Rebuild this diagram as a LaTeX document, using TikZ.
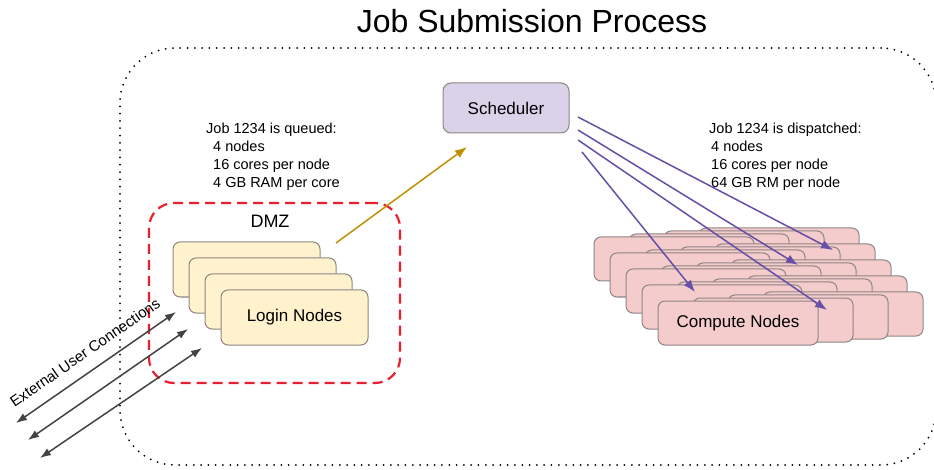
\documentclass[tikz,border=0pt]{standalone}
\usepackage{fontspec}
\setmainfont{Liberation Sans}
\usetikzlibrary{arrows.meta}
\definecolor{loginfill}{HTML}{FFF2CC}
\definecolor{computefill}{HTML}{F4CCCC}
\definecolor{schedfill}{HTML}{D9D2E9}
\definecolor{boxline}{HTML}{8E8585}
\definecolor{dispatch}{HTML}{674EA7}
\definecolor{submit}{HTML}{BF9000}
\definecolor{userline}{HTML}{434343}
\definecolor{dmzred}{HTML}{E6202C}

\begin{document}
\begin{tikzpicture}
  [x=1pt,y=-1pt,
   every node/.style={font=\fontsize{17}{20}\selectfont},
   stackbox/.style={draw=boxline,line width=1pt,rounded corners=7pt},
   loginbox/.style={stackbox,fill=loginfill,minimum width=147pt,minimum height=55pt},
   computebox/.style={stackbox,fill=computefill,minimum width=160pt,minimum height=44pt},
   note/.style={anchor=north west,align=left,inner sep=0pt,font=\fontsize{14.5}{18}\selectfont},
   dispatchline/.style={draw=dispatch,line width=1.5pt,-{Latex[length=12pt,width=9pt]}},
   userlink/.style={draw=userline,line width=1.5pt,{Latex[length=11pt,width=8pt]}-{Latex[length=11pt,width=8pt]}}]

  \useasboundingbox (0,0) rectangle (934,470);

  \node (title) [anchor=base,font=\fontsize{32}{36}\selectfont] at (532,33) {Job Submission Process};
  \node (cluster) [draw,line width=2pt,line cap=round,dash pattern=on 0pt off 7.3pt,
    rounded corners=55pt,minimum width=816pt,minimum height=417pt] at (528,256.5) {};

  % DMZ with the login nodes
  \node (dmz) [draw=dmzred,line width=2.2pt,dash pattern=on 10pt off 6pt,rounded corners=25pt,
    minimum width=251pt,minimum height=180pt] at (274.5,293) {};
  \node (dmzlabel) [font=\fontsize{18}{20}\selectfont] at (270,221) {DMZ};
  \foreach \r in {0,...,3}
    \node (ln\r) [loginbox] at ({246.5+16*\r},{269.5+16*\r}) {};
  \node (lnlabel) at (ln3) {Login Nodes};

  \node (queued) [note] at (206,122.5) {Job 1234 is queued:\\
    \hspace*{7pt}4 nodes\\ \hspace*{7pt}16 cores per node\\ \hspace*{7pt}4 GB RAM per core};
  \node (dispatched) [note] at (709,122.5) {Job 1234 is dispatched:\\
    \hspace*{2pt}4 nodes\\ \hspace*{2pt}16 cores per node\\ \hspace*{2pt}64 GB RM per node};

  \node (sched) [stackbox,draw=boxline,fill=schedfill,rounded corners=8pt,
    minimum width=126pt,minimum height=50pt] at (506,108) {Scheduler};

  % compute node stacks
  \foreach \r in {0,...,4}
    \foreach \k in {3,2,1,0}
      \node (cn\k\r) [computebox] at ({674+16*\r+35*\k},{259+16*\r-3*\k}) {};
  \node (cnlabel) at (cn04) {Compute Nodes};

  \coordinate (qout) at (336,243);
  \coordinate (qin) at (467,147);
  \draw[submit,line width=1.5pt,-{Latex[length=12pt,width=9pt]}] (qout) -- (qin);

  \coordinate (s1) at (578,117); \coordinate (t1) at (833,250);
  \coordinate (s2) at (578,130); \coordinate (t2) at (798,265);
  \coordinate (s3) at (578,140); \coordinate (t3) at (827,310);
  \coordinate (s4) at (582,152); \coordinate (t4) at (695,292);
  \foreach \from/\to in {s1/t1,s2/t2,s3/t3,s4/t4}
    \draw[dispatchline] (\from) -- (\to);

  % external users
  \coordinate (ua1) at (16,423); \coordinate (ub1) at (176,312);
  \coordinate (ua2) at (28,440); \coordinate (ub2) at (188,329);
  \coordinate (ua3) at (40,458); \coordinate (ub3) at (202,348);
  \foreach \from/\to in {ua1/ub1,ua2/ub2,ua3/ub3}
    \draw[userlink] (\from) -- (\to);
  \node (extlabel) [rotate=34.8,anchor=base,font=\fontsize{15}{17}\selectfont] at (88,357)
    {External User Connections};
\end{tikzpicture}
\end{document}
